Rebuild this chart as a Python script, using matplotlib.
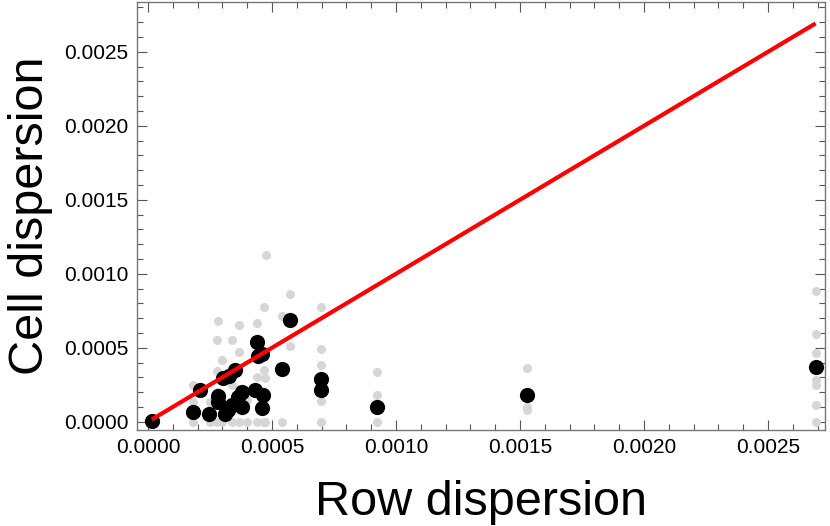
import matplotlib.pyplot as plt
from matplotlib.ticker import MultipleLocator, FormatStrFormatter

plt.rcParams['font.family'] = ['Liberation Sans', 'DejaVu Sans']

# mean per row (black), values in units of 1e-4
row_disp = [0.15, 1.83, 2.10, 2.46, 2.84, 2.84, 3.04, 3.10, 3.24, 3.25, 3.40, 3.51,
            3.64, 3.78, 3.78, 4.31, 4.38, 4.45, 4.58, 4.65, 4.58, 5.39, 5.73,
            6.98, 6.98, 9.25, 15.27, 26.92]
cell_disp = [0.07, 0.64, 2.14, 0.52, 1.75, 1.30, 2.93, 0.55, 0.79, 3.10, 1.10, 3.49,
             1.69, 2.03, 1.00, 2.14, 5.39, 4.45, 4.57, 1.80, 0.90, 3.56, 6.86,
             2.90, 2.14, 0.99, 1.80, 3.68]

# individual cells (gray), units of 1e-4
cells_x = [1.83, 1.83, 1.83, 2.50, 2.50, 2.80, 2.80, 2.80, 2.84, 2.80,
           3.00, 3.00, 3.00, 3.40, 3.40, 3.40, 3.67, 3.67, 3.67, 3.67, 3.67,
           4.00, 4.00, 4.40, 4.40, 4.40, 4.66, 4.66, 4.74, 4.66, 4.72, 4.72, 4.66,
           5.39, 5.39, 5.73, 5.73,
           6.98, 6.98, 6.98, 6.98, 6.98,
           9.25, 9.25, 9.25,
           15.27, 15.27, 15.27,
           26.92, 26.92, 26.92, 26.92, 26.92, 26.92, 26.92]
cells_y = [0.0, 1.35, 2.48, 0.0, 1.35, 0.0, 3.45, 5.52, 6.82, 2.0,
           0.0, 4.17, 1.0, 0.0, 5.52, 2.5, 0.0, 4.73, 6.53, 2.2, 1.4,
           0.0, 1.5, 0.0, 6.69, 3.0, 0.0, 7.77, 11.26, 3.49, 2.93, 0.0, 1.2,
           0.0, 7.14, 8.6, 5.11,
           0.0, 1.4, 3.81, 4.93, 7.73,
           0.0, 1.78, 3.38,
           0.79, 1.0, 3.6,
           0.0, 1.13, 2.48, 2.82, 4.66, 5.9, 8.83]

s = 1e-4
fig = plt.figure(figsize=(8.3, 5.26), dpi=100)
ax = fig.add_axes([0.1645, 0.1825, 0.8295, 0.8135])

ax.scatter([v * s for v in cells_x], [v * s for v in cells_y], s=42, color='#d6d6d6',
           linewidths=0, zorder=2)
ax.scatter([v * s for v in row_disp], [v * s for v in cell_disp], s=120, color='black',
           linewidths=0, zorder=3)
lo = min(row_disp) * s
hi = max(row_disp) * s
ax.plot([lo, hi], [lo, hi], color='red', lw=3, zorder=4, solid_capstyle='butt')

ax.set_xlim(-0.0000464, 0.00273)
ax.set_ylim(-0.000056, 0.002836)

for a in (ax.xaxis, ax.yaxis):
    a.set_major_locator(MultipleLocator(0.0005))
    a.set_minor_locator(MultipleLocator(0.0001))
    a.set_major_formatter(FormatStrFormatter('%.4f'))
ax.tick_params(which='both', direction='in', top=True, right=True, color='#555555',
               labelsize=15, width=0.8)
ax.tick_params(which='major', length=7, pad=6)
ax.tick_params(which='minor', length=4)
for sp in ax.spines.values():
    sp.set_color('#777777')
    sp.set_linewidth(1)

ax.set_xlabel("Row dispersion", fontsize=35, labelpad=16)
ax.set_ylabel("Cell dispersion", fontsize=35, labelpad=8)

plt.savefig("out.png")
